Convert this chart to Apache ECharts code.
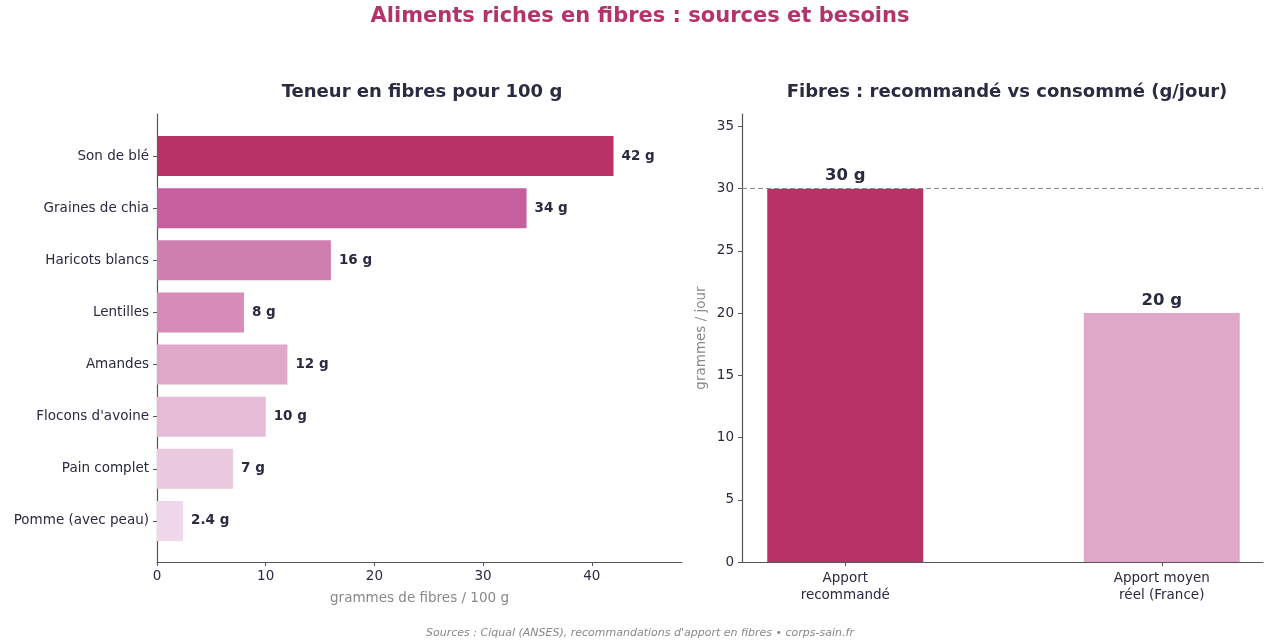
<!DOCTYPE html>
<html>
<head>
<meta charset="utf-8">
<script src="https://cdn.jsdelivr.net/npm/echarts@6/dist/echarts.min.js"></script>
<style>
  html, body { margin: 0; padding: 0; background: #fff; }
  #main { width: 1280px; height: 640px; }
</style>
</head>
<body>
<div id="main"></div>
<script>
// données
var foods = ['Son de blé', 'Graines de chia', 'Haricots blancs', 'Lentilles', 'Amandes', "Flocons d'avoine", 'Pain complet', 'Pomme (avec peau)'];
var fibres = [42, 34, 16, 8, 12, 10, 7, 2.4];
var foodColors = ['#b83268', '#c75e9e', '#cf7faf', '#d78cb8', '#dfa8c8', '#e6bbd6', '#ebcae0', '#eed8ea'];
var fibreTicks = [0, 10, 20, 30, 40];

var apports = ['Apport\nrecommandé', 'Apport moyen\nréel (France)'];
var apportValues = [30, 20];
var apportColors = ['#b83268', '#dfa8c8'];
var jourTicks = [0, 5, 10, 15, 20, 25, 30, 35];
var recommande = 30;

var dark = '#2a2a40';
var axisCol = '#555';
var font = 'DejaVu Sans';

var chart = echarts.init(document.getElementById('main'));

var option = {
  backgroundColor: '#fff',
  textStyle: { fontFamily: font },
  title: [
    { text: 'Aliments riches en fibres : sources et besoins', left: 'center', top: 1,
      textStyle: { color: '#b5336b', fontSize: 21, fontWeight: 'bold', fontFamily: font } },
    { text: 'Teneur en fibres pour 100 g', left: 417, top: 78, textAlign: 'center',
      textStyle: { color: dark, fontSize: 18, fontWeight: 'bold', fontFamily: font } },
    { text: 'Fibres : recommandé vs consommé (g/jour)', left: 1002, top: 78, textAlign: 'center',
      textStyle: { color: dark, fontSize: 18, fontWeight: 'bold', fontFamily: font } },
    { text: "Sources : Ciqual (ANSES), recommandations d'apport en fibres • corps-sain.fr", left: 'center', top: 623,
      textStyle: { color: '#888', fontSize: 11, fontStyle: 'italic', fontWeight: 'normal', fontFamily: font } }
  ],
  grid: [
    { left: 157, right: 598, top: 130, bottom: 93, outerBoundsMode: 'none' },   // barres gauche
    { left: 157, right: 598, top: 114, bottom: 78, outerBoundsMode: 'none' },   // axes gauche
    { left: 687, width: 633, top: 114, bottom: 78, outerBoundsMode: 'none' },   // barres droite
    { left: 742, right: 17, top: 114, bottom: 78, outerBoundsMode: 'none' }     // axes droite
  ],
  xAxis: [
    { gridIndex: 0, type: 'value', min: 0, max: 48.3, show: false },
    { gridIndex: 1, type: 'value', min: 0, max: 48.3,
      axisLine: { show: true, lineStyle: { color: axisCol, width: 1.2 } },
      axisTick: { show: true, length: 4, customValues: fibreTicks, lineStyle: { color: axisCol } },
      axisLabel: { customValues: fibreTicks, color: dark, fontSize: 13.5, margin: 7 },
      splitLine: { show: false },
      name: 'grammes de fibres / 100 g', nameLocation: 'middle', nameGap: 29,
      nameTextStyle: { color: '#888', fontSize: 13.5 } },
    { gridIndex: 2, type: 'category', data: apports,
      axisLine: { show: false },
      axisTick: { show: true, alignWithLabel: true, length: 4, lineStyle: { color: axisCol } },
      axisLabel: { color: dark, fontSize: 13.5, lineHeight: 17, margin: 8 } },
    { gridIndex: 3, type: 'value', min: 0, max: 1,
      axisLine: { show: true, lineStyle: { color: axisCol, width: 1.2 } },
      axisTick: { show: false }, axisLabel: { show: false }, splitLine: { show: false } }
  ],
  yAxis: [
    { gridIndex: 0, type: 'category', data: foods, inverse: true,
      axisLine: { show: false },
      axisTick: { show: true, alignWithLabel: true, length: 4, lineStyle: { color: axisCol } },
      axisLabel: { color: dark, fontSize: 13.5, margin: 8 } },
    { gridIndex: 1, type: 'value', min: 0, max: 1,
      axisLine: { show: true, lineStyle: { color: axisCol, width: 1.2 } },
      axisTick: { show: false }, axisLabel: { show: false }, splitLine: { show: false } },
    { gridIndex: 2, type: 'value', min: 0, max: 36, show: false },
    { gridIndex: 3, type: 'value', min: 0, max: 36,
      axisLine: { show: true, lineStyle: { color: axisCol, width: 1.2 } },
      axisTick: { show: true, length: 4, customValues: jourTicks, lineStyle: { color: axisCol } },
      axisLabel: { customValues: jourTicks, color: dark, fontSize: 13.5, margin: 8 },
      splitLine: { show: false },
      name: 'grammes / jour', nameLocation: 'middle', nameGap: 34,
      nameTextStyle: { color: '#888', fontSize: 13.5 } }
  ],
  series: [
    {
      type: 'bar', xAxisIndex: 0, yAxisIndex: 0, barWidth: 40,
      data: fibres.map(function (v, i) {
        return { value: v, itemStyle: { color: foodColors[i] } };
      }),
      label: { show: true, position: 'right', distance: 8, color: dark, fontSize: 13.5, fontWeight: 'bold',
        formatter: function (p) { return p.value + ' g'; } },
      silent: true
    },
    {
      type: 'bar', xAxisIndex: 2, yAxisIndex: 2, barWidth: 156,
      data: apportValues.map(function (v, i) {
        return { value: v, itemStyle: { color: apportColors[i] } };
      }),
      label: { show: true, position: 'top', distance: 4, color: dark, fontSize: 16.5, fontWeight: 'bold',
        formatter: function (p) { return p.value + ' g'; } },
      silent: true
    },
    {
      type: 'line', xAxisIndex: 3, yAxisIndex: 3, data: [],
      markLine: {
        silent: true, symbol: 'none',
        label: { show: false },
        lineStyle: { color: '#888', type: [5, 3], width: 1.2 },
        data: [{ yAxis: recommande }]
      }
    }
  ]
};

chart.setOption(option);
</script>
</body>
</html>
